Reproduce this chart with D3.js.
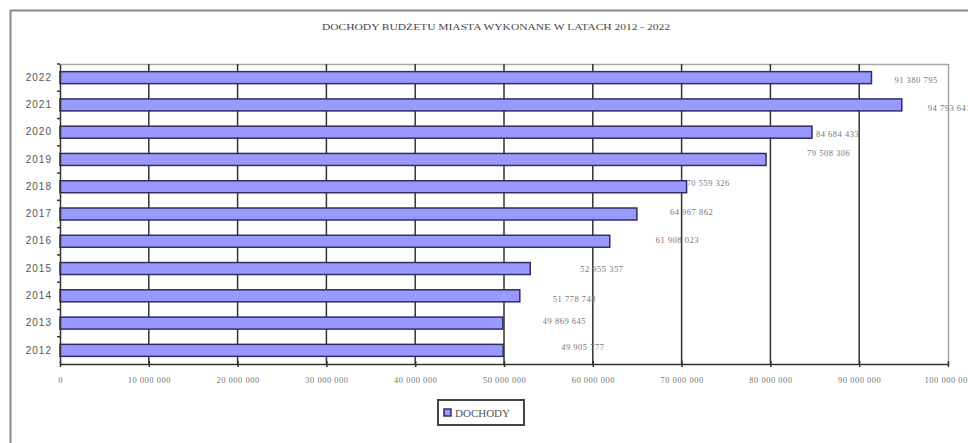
<!DOCTYPE html>
<html>
<head>
<meta charset="utf-8">
<script src="https://cdn.jsdelivr.net/npm/d3@7"></script>
<style>
  html, body { margin: 0; padding: 0; background: #fff; }
  svg { display: block; }
</style>
</head>
<body>
<svg id="chart"></svg>
<script>
// lata i dochody (zł)
const years = ["2012", "2013", "2014", "2015", "2016", "2017", "2018", "2019", "2020", "2021", "2022"];
const dochody = [49905777, 49869645, 51778748, 52955357, 61908023, 64967862, 70559326, 79508306, 84684433, 94793641, 91380795];
const xTicks = [0, 10000000, 20000000, 30000000, 40000000, 50000000, 60000000, 70000000, 80000000, 90000000, 100000000];

// przesunięcia etykiet (ręcznie przesunięte w oryginale)
const labelDx = [58, 40, 33, 50, 46, 33, 0, 41, 4, 26, 23];
const labelDy = [-3, -2, 3, 0, -1, -2, -4, -6, 2, 3, 2];

const W = 968, H = 443;
const plot = { left: 60, right: 948, top: 64, bottom: 364 };

const svg = d3.select("#chart").attr("width", W).attr("height", H);

// ramka wykresu
svg.append("path")
  .attr("d", `M10.5,${H} V10.5 H${W}`)
  .attr("fill", "none")
  .attr("stroke", "#8a8a8a")
  .attr("stroke-width", 2);

// tytuł
svg.append("text")
  .attr("x", 322).attr("y", 30)
  .attr("textLength", 348)
  .attr("lengthAdjust", "spacingAndGlyphs")
  .style("font-family", "Liberation Serif")
  .style("font-size", "8px")
  .style("fill", "#444")
  .text("DOCHODY BUDŻETU MIASTA WYKONANE W LATACH 2012 - 2022");

const x = d3.scaleLinear().domain([0, 100000000]).range([plot.left, plot.right]);
const y = d3.scaleBand().domain(years.slice().reverse()).range([plot.top, plot.bottom]).paddingInner(0);

const fmt = v => d3.format(",")(v).replace(/,/g, " ");

// górna i prawa krawędź obszaru
svg.append("path")
  .attr("d", `M${plot.left},${plot.top + 0.5} H${plot.right + 0.5} V${plot.bottom}`)
  .attr("fill", "none")
  .attr("stroke", "#a8a8a8")
  .attr("stroke-width", 1.5);

// linie siatki
svg.append("g")
  .selectAll("line")
  .data(xTicks.filter(t => t > 0 && t < 100000000))
  .join("line")
  .attr("x1", d => x(d)).attr("x2", d => x(d))
  .attr("y1", plot.top).attr("y2", plot.bottom)
  .attr("stroke", "#333")
  .attr("stroke-width", 1.5);

// słupki
svg.append("g")
  .selectAll("rect")
  .data(years)
  .join("rect")
  .attr("x", x(0))
  .attr("y", d => y(d) + y.bandwidth() * 0.28)
  .attr("width", (d, i) => x(dochody[i]) - x(0))
  .attr("height", y.bandwidth() * 0.44)
  .attr("fill", "#9999ff")
  .attr("stroke", "#2e2e63")
  .attr("stroke-width", 1.5);

// oś x
const xAxis = svg.append("g")
  .attr("transform", `translate(0,${plot.bottom})`)
  .call(d3.axisBottom(x).tickValues(xTicks).tickSizeInner(3).tickSizeOuter(0).tickPadding(10).tickFormat(fmt));
xAxis.select(".domain").attr("stroke", "#333").attr("stroke-width", 1.5);
xAxis.selectAll(".tick line").attr("y1", -3).attr("stroke", "#333").attr("stroke-width", 1.5);
xAxis.selectAll(".tick text")
  .style("font-family", "Liberation Serif")
  .style("font-size", "8.5px")
  .style("letter-spacing", "0.5px")
  .style("fill", "#777");

// oś y
const yAxis = svg.append("g")
  .attr("transform", `translate(${plot.left},0)`)
  .call(d3.axisLeft(y).tickSize(0).tickPadding(8));
yAxis.select(".domain").attr("stroke", "#333").attr("stroke-width", 1.5);
yAxis.selectAll(".tick text")
  .style("font-family", "Liberation Sans")
  .style("font-size", "10px")
  .style("letter-spacing", "1px")
  .style("fill", "#555");

// kreski między kategoriami
svg.append("g")
  .selectAll("line")
  .data(years)
  .join("line")
  .attr("x1", plot.left - 3).attr("x2", plot.left)
  .attr("y1", d => y(d)).attr("y2", d => y(d))
  .attr("stroke", "#333")
  .attr("stroke-width", 1.5);

// etykiety wartości
svg.append("g")
  .selectAll("text")
  .data(years)
  .join("text")
  .attr("x", (d, i) => x(dochody[i]) + labelDx[i])
  .attr("y", (d, i) => y(d) + y.bandwidth() / 2 + labelDy[i])
  .attr("dy", "0.35em")
  .style("font-family", "Liberation Serif")
  .style("font-size", "8.5px")
  .style("letter-spacing", "0.5px")
  .style("fill", "#777")
  .text((d, i) => fmt(dochody[i]));

// legenda
const legend = svg.append("g").attr("transform", "translate(438,400)");
legend.append("rect")
  .attr("width", 86).attr("height", 25)
  .attr("fill", "#fff")
  .attr("stroke", "#444")
  .attr("stroke-width", 2);
legend.append("rect")
  .attr("x", 6).attr("y", 9)
  .attr("width", 7).attr("height", 7)
  .attr("fill", "#9999ff")
  .attr("stroke", "#2e2e63")
  .attr("stroke-width", 1.5);
legend.append("text")
  .attr("x", 17).attr("y", 17)
  .style("font-family", "Liberation Serif")
  .style("font-size", "11px")
  .style("fill", "#555")
  .text("DOCHODY");
</script>
</body>
</html>
